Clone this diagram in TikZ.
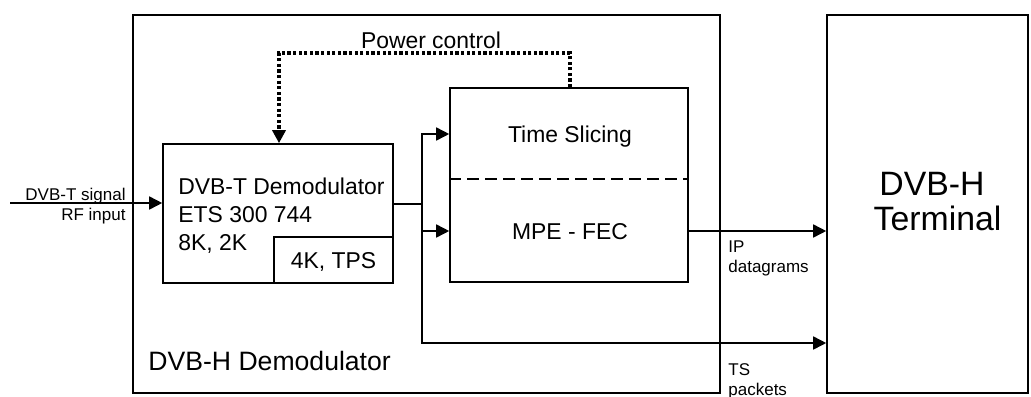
\documentclass[tikz,border=0pt]{standalone}
\usepackage{fontspec}
\setmainfont{Liberation Sans}
\usetikzlibrary{arrows.meta}
\begin{document}
\begin{tikzpicture}[x=0.5pt,y=-0.5pt,
  box/.style={draw,line width=0.8pt,minimum width=#1,inner sep=0pt},
  conn/.style={line width=0.8pt},
  arr/.style={conn,-{Triangle[length=6.5pt,width=6.5pt]}},
  txt/.style={inner sep=0pt,font=\fontsize{11.45}{13}\selectfont},
  small/.style={inner sep=0pt,font=\fontsize{8.5}{10}\selectfont},
  big/.style={inner sep=0pt,font=\fontsize{16.9}{19}\selectfont}]
\useasboundingbox (0,0) rectangle (1031,396);
% boxes
\node[box=293.5pt,minimum height=189pt] (outer) at (426.5,204) {};
\node[box=100.5pt,minimum height=189pt] (term) at (927.5,204) {};
\node[box=115pt,minimum height=69.5pt] (dvbt) at (278,213.5) {};
\node[box=59.5pt,minimum height=23pt] (tps) at (333.5,260) {};
\node[box=119pt,minimum height=97pt] (ts) at (569,185) {};
\draw[line width=1.1pt,dash pattern=on 6pt off 3pt] (ts.west |- 0,179) coordinate (dl) -- (ts.east |- 0,179) coordinate (dr);
% texts
\node[txt,anchor=base west] (d1) at (178,194) {DVB-T Demodulator};
\node[txt,anchor=base west] (d2) at (178,222) {ETS 300 744};
\node[txt,anchor=base west] (d3) at (178,250) {8K, 2K};
\node[txt,anchor=base] (tpst) at (333.5,268) {4K, TPS};
\node[txt,anchor=base] (tst) at (570,142) {Time Slicing};
\node[txt,anchor=base] (mpe) at (570,239) {MPE - FEC};
\node[txt,anchor=base] (pc) at (431,48) {Power control};
\node[inner sep=0pt,font=\fontsize{13.3}{15}\selectfont,anchor=base west] (dl1) at (148,370) {DVB-H Demodulator};
\node[big,anchor=base] (t1) at (932,195) {DVB-H};
\node[big,anchor=base] (t2) at (937.5,230) {Terminal};
\node[small,anchor=base east] (in1) at (126,200) {DVB-T signal};
\node[small,anchor=base east] (in2) at (126,220) {RF input};
\node[small,anchor=base west] (ip1) at (728,252) {IP};
\node[small,anchor=base west] (ip2) at (728,272) {datagrams};
\node[small,anchor=base west] (tp1) at (728,375) {TS};
\node[small,anchor=base west] (tp2) at (728,395) {packets};
% connectors
\coordinate (inp) at (10,203);
\coordinate (j) at (422,204);
\draw[arr] (inp) -- (inp -| dvbt.west);
\draw[conn] (dvbt.east |- j) -- (j);
\draw[arr] (j) |- (ts.west |- 0,134);
\draw[arr] (j) |- (ts.west |- 0,231);
\draw[arr] (j) |- (term.west |- 0,343);
\draw[arr] (ts.east |- 0,231) -- (term.west |- 0,231);
\coordinate (p1) at (570,53);
\coordinate (p2) at (279,53);
\draw[line width=2pt,dash pattern=on 1.6pt off 1.2pt,-{Triangle[length=6.5pt,width=6.5pt]}]
  (ts.north -| p1) -- (p1) -- (p2) -- (dvbt.north -| p2);
\end{tikzpicture}
\end{document}
